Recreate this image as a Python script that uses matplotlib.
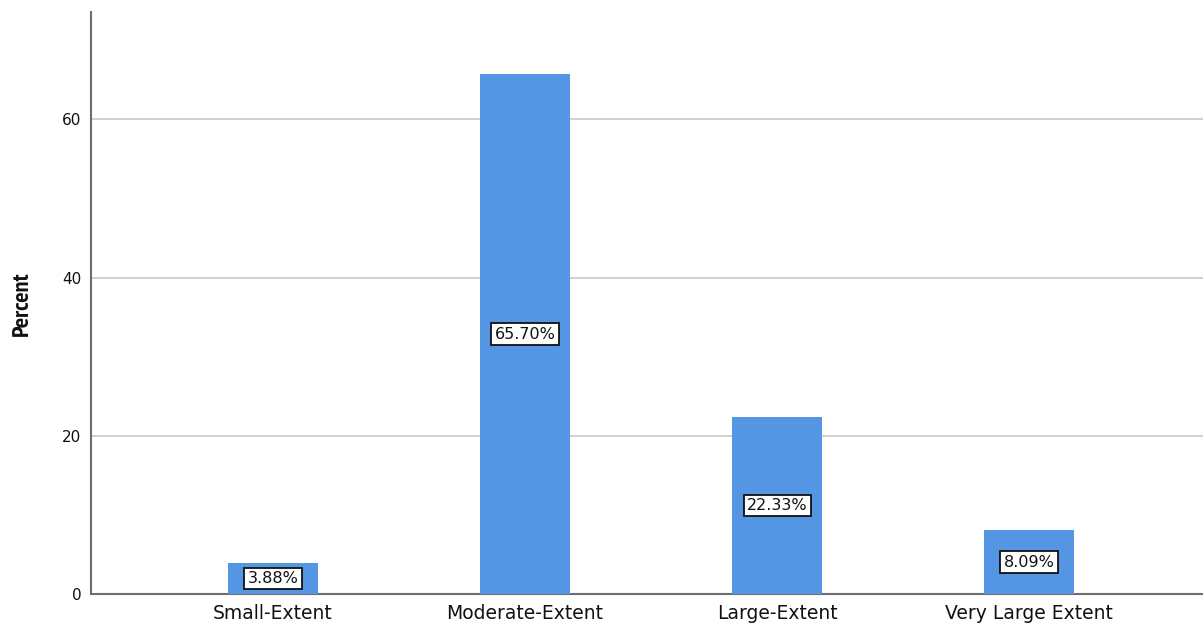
import matplotlib
matplotlib.use("Agg")
import matplotlib.pyplot as plt
from matplotlib import font_manager

categories = ["Small-Extent", "Moderate-Extent", "Large-Extent", "Very Large Extent"]
percents = [3.88, 65.70, 22.33, 8.09]
y_ticks = [0, 20, 40, 60]

plt.rcParams["font.family"] = ["DejaVu Sans"]

fig = plt.figure(figsize=(12.03, 6.23), dpi=100)
ax = fig.add_axes([0.0756, 0.0465, 0.9244, 0.9345])

x = list(range(len(categories)))
ax.bar(x, percents, width=0.357, color="#5596E4", zorder=3)

for xi, p in zip(x, percents):
    ax.text(xi, p / 2, f"{p:.2f}%", ha="center", va="center", fontsize=11.5,
            color="#111111", zorder=4,
            bbox=dict(boxstyle="square,pad=0.2", facecolor="white",
                      edgecolor="#111111", linewidth=1.3))

ax.set_xlim(-0.722, 3.69)
ax.set_ylim(0, 73.6)
ax.set_yticks(y_ticks)
ax.set_xticks(x)
ax.set_xticklabels(categories, fontsize=13.5, color="#111111")
ax.tick_params(axis="y", labelsize=11, length=0, pad=7, labelcolor="#111111")
ax.tick_params(axis="x", length=0, pad=7)

for v in y_ticks[1:]:
    ax.axhline(v, color="#c8c8c8", linewidth=1.2, zorder=1)

for side in ("top", "right"):
    ax.spines[side].set_visible(False)
for side in ("left", "bottom"):
    ax.spines[side].set_color("#6e6e6e")
    ax.spines[side].set_linewidth(1.5)

# Condensed bold face for the axis title, if one is available
narrow_bold = [f for f in font_manager.fontManager.ttflist
               if "Narrow" in f.name and f.weight in ("bold", 700)]
if narrow_bold:
    ylab_props = font_manager.FontProperties(fname=narrow_bold[0].fname, size=17.5)
else:
    ylab_props = font_manager.FontProperties(family="Liberation Sans",
                                             weight="bold", size=14)
fig.text(0.019, 0.513, "Percent", rotation=90, ha="center", va="center",
         fontproperties=ylab_props, color="#111111")

fig.savefig("out.png", dpi=100, facecolor="white")
